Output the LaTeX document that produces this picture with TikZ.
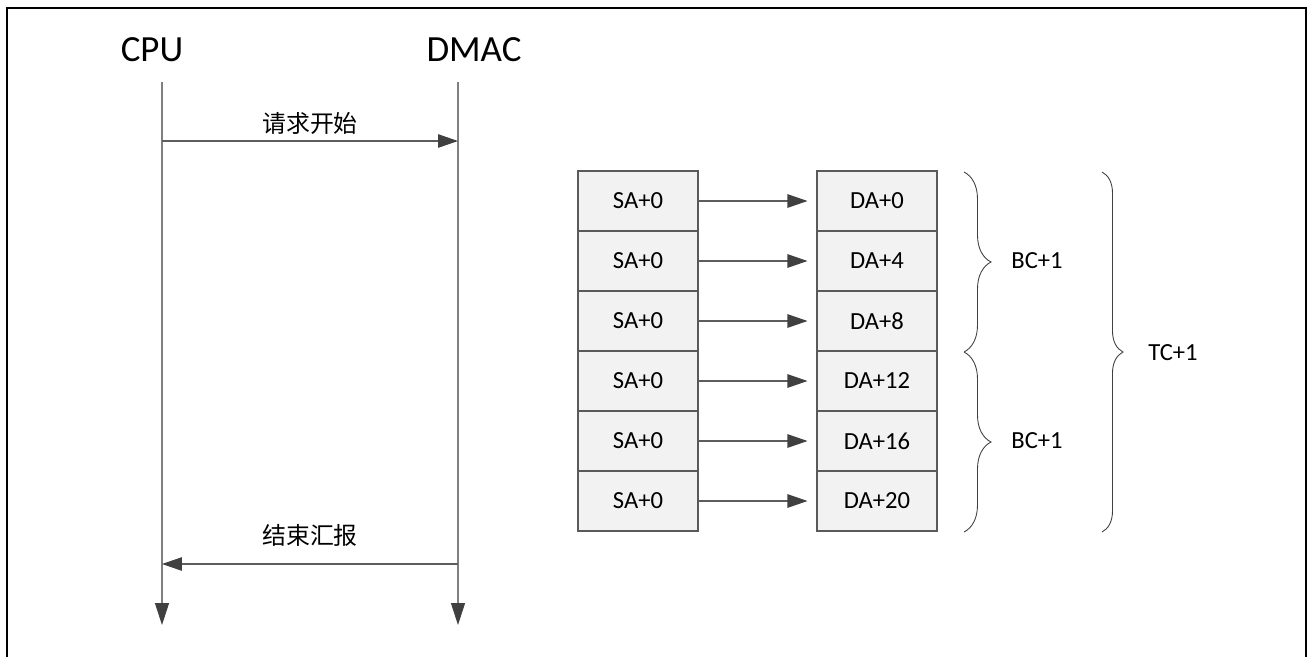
\documentclass[tikz,border=0pt]{standalone}
\usepackage{fontspec}
\setmainfont{Carlito}
\newfontfamily\cjk{Noto Sans CJK SC}
\usetikzlibrary{arrows.meta,positioning,decorations.pathreplacing}

\definecolor{lifegray}{HTML}{7F7F7F}
\definecolor{headgray}{HTML}{404040}
\definecolor{celledge}{HTML}{5A5A5A}
\definecolor{cellfill}{HTML}{F2F2F2}

\begin{document}
\begin{tikzpicture}[x=0.02cm, y=-0.02cm,
  actor/.style={inner sep=0pt, font=\fontsize{21}{25}\selectfont},
  msg/.style={inner sep=0pt, font=\cjk\fontsize{13.6}{16}\selectfont},
  cell/.style={
    rectangle, draw=celledge, fill=cellfill, line width=0.6pt,
    minimum width=2.4cm, minimum height=1.2cm, inner sep=0pt,
    font=\fontsize{14}{17}\selectfont},
  lbl/.style={inner sep=0pt, font=\fontsize{14}{17}\selectfont},
  life/.style={draw=lifegray, line width=0.6pt,
    -{Triangle[length=0.44cm, width=0.28cm, color=headgray, fill=headgray]}},
  arr/.style={draw=headgray!85, line width=0.6pt,
    -{Triangle[length=0.4cm, width=0.27cm, color=headgray, fill=headgray]}},
  brc/.style={draw=headgray, line width=0.5pt,
    decorate, decoration={brace, amplitude=#1}},
]

\useasboundingbox (0,0) rectangle (1309,657);

%% ---- Frame ----
\draw[line width=1.2pt] (7,657) -- (7,8) -- (1306,8) -- (1306,657);

%% ---- Lifelines ----
\node[actor] (cpu)  at (152,50) {CPU};
\node[actor] (dmac) at (474,50) {DMAC};

\coordinate (cpuTop)  at (162,82);
\coordinate (cpuEnd)  at (162,625);
\coordinate (dmacTop) at (458,82);
\coordinate (dmacEnd) at (458,625);

\draw[life] (cpuTop)  -- (cpuEnd);
\draw[life] (dmacTop) -- (dmacEnd);

%% ---- Messages ----
\coordinate (reqA) at (162,141);
\coordinate (reqB) at (458,141);
\coordinate (repA) at (162,564);
\coordinate (repB) at (458,564);

\draw[arr] (reqA) -- (reqB);
\node[msg] (req) at (310,123) {请求开始};

\draw[arr] (repB) -- (repA);
\node[msg] (rep) at (310,535) {结束汇报};

%% ---- Source / destination cells ----
\node[cell] (sa1) at (638,201) {SA+0};
\node[cell] (sa2) at (638,261) {SA+0};
\node[cell] (sa3) at (638,321) {SA+0};
\node[cell] (sa4) at (638,381) {SA+0};
\node[cell] (sa5) at (638,441) {SA+0};
\node[cell] (sa6) at (638,501) {SA+0};

\node[cell] (da1) at (877,201) {DA+0};
\node[cell] (da2) at (877,261) {DA+4};
\node[cell] (da3) at (877,321) {DA+8};
\node[cell] (da4) at (877,381) {DA+12};
\node[cell] (da5) at (877,441) {DA+16};
\node[cell] (da6) at (877,501) {DA+20};

\draw[arr] (sa1.east) -- ([xshift=-0.18cm]da1.west);
\draw[arr] (sa2.east) -- ([xshift=-0.18cm]da2.west);
\draw[arr] (sa3.east) -- ([xshift=-0.18cm]da3.west);
\draw[arr] (sa4.east) -- ([xshift=-0.18cm]da4.west);
\draw[arr] (sa5.east) -- ([xshift=-0.18cm]da5.west);
\draw[arr] (sa6.east) -- ([xshift=-0.18cm]da6.west);

%% ---- Counters ----
\draw[brc=0.54cm] (964,172) -- (964,352);
\draw[brc=0.54cm] (964,352) -- (964,532);
\draw[brc=0.42cm] (1102,172) -- (1102,532);

\node[lbl] (bc1) at (1037,261) {BC+1};
\node[lbl] (bc2) at (1037,441) {BC+1};
\node[lbl] (tc)  at (1173,353) {TC+1};

\end{tikzpicture}
\end{document}
